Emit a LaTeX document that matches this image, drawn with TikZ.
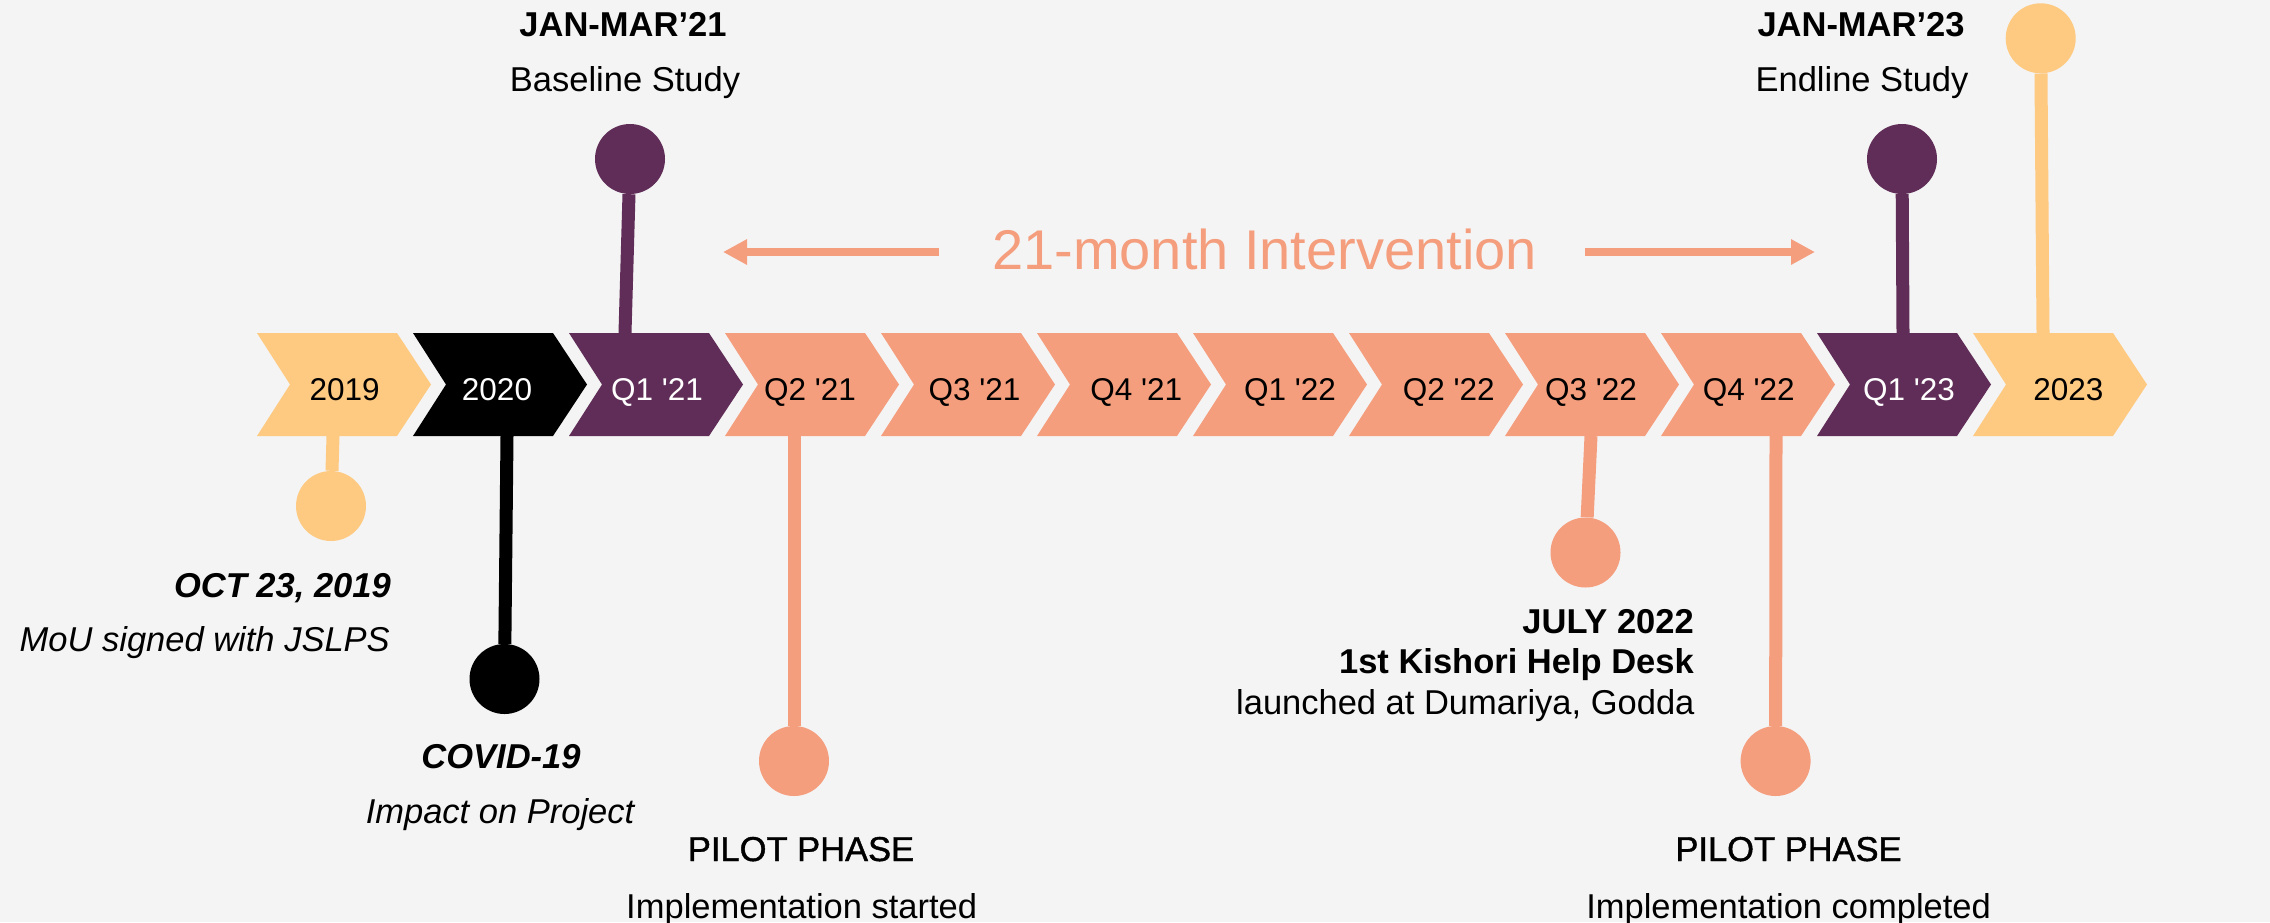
\documentclass[tikz,border=0pt]{standalone}
\usepackage{fontspec}
\setmainfont{Liberation Sans}
\newfontfamily\tlsemibold[FakeBold=1.2]{Liberation Sans}
\usetikzlibrary{arrows.meta}

\definecolor{tlyellow}{HTML}{FECA82}
\definecolor{tlsalmon}{HTML}{F59E7D}
\definecolor{tlpurple}{HTML}{5F2D57}
\definecolor{tlback}{HTML}{F4F4F4}
\newcommand{\tlsize}[1]{\fontsize{#1}{#1}\selectfont}

\begin{document}
\begin{tikzpicture}[x=1pt,y=-1pt,
	pindot/.style={circle,minimum size=70pt,inner sep=0pt},
	pinline/.style={line width=13pt},
	ivarrow/.style={tlsalmon,line width=8.5pt,-{Triangle[length=24pt,width=24pt]}},
	evtext/.style={font=\tlsize{34.5},inner sep=0pt,anchor=base},
	evbold/.style={evtext,font=\tlsize{34.5}\bfseries},
	evsemi/.style={evtext,font=\tlsize{34.5}\tlsemibold},
	evboldit/.style={evtext,font=\tlsize{34.5}\bfseries\itshape},
	evit/.style={evtext,font=\tlsize{34.5}\itshape}]
	\fill[tlback] (0,0) rectangle (2270,922);
	\useasboundingbox (0,0) rectangle (2270,922);

	% quarters
	\foreach \lab/\fc/\tc/\tx [count=\i from 0] in {2019/tlyellow/black/344.6,
		2020/black/white/497, Q1 \textquotesingle21/tlpurple/white/657,
		Q2 \textquotesingle21/tlsalmon/black/810, Q3 \textquotesingle21/tlsalmon/black/974.6,
		Q4 \textquotesingle21/tlsalmon/black/1136.3, Q1 \textquotesingle22/tlsalmon/black/1290,
		Q2 \textquotesingle22/tlsalmon/black/1448.7, Q3 \textquotesingle22/tlsalmon/black/1591,
		Q4 \textquotesingle22/tlsalmon/black/1748.7, Q1 \textquotesingle23/tlpurple/white/1909,
		2023/tlyellow/black/2068.3}
	{
		\fill[\fc] (257+\i*156,333) -- ++(140,0) -- ++(34,51.5) -- ++(-34,51.5)
			-- ++(-140,0) -- ++(33,-51.5) -- cycle;
		\node[font=\tlsize{31.5},text=\tc,inner sep=0pt,anchor=base] (q\i) at (\tx,400) {\lab};
	}

	% pins
	\node[pindot,fill=tlyellow] (d2019) at (331,506) {};
	\coordinate (e2019) at (333,436);
	\draw[pinline,tlyellow] (e2019) -- (d2019);

	\node[pindot,fill=black] (d2020) at (504.5,679) {};
	\coordinate (e2020) at (507,436);
	\draw[pinline,black] (e2020) -- (d2020);

	\node[pindot,fill=tlpurple] (dbase) at (630,159) {};
	\coordinate (ebase) at (625,333);
	\draw[pinline,tlpurple] (ebase) -- (dbase);

	\node[pindot,fill=tlsalmon] (dstart) at (794,761) {};
	\coordinate (estart) at (794,436);
	\draw[pinline,tlsalmon] (estart) -- (dstart);

	\node[pindot,fill=tlsalmon] (ddesk) at (1585.5,552.5) {};
	\coordinate (edesk) at (1591,436);
	\draw[pinline,tlsalmon] (edesk) -- (ddesk);

	\node[pindot,fill=tlsalmon] (dend) at (1775.6,761) {};
	\coordinate (eend) at (1776,436);
	\draw[pinline,tlsalmon] (eend) -- (dend);

	\node[pindot,fill=tlpurple] (dendline) at (1902,159) {};
	\coordinate (eendline) at (1903,333);
	\draw[pinline,tlpurple] (eendline) -- (dendline);

	\node[pindot,fill=tlyellow] (d2023) at (2040.7,38.3) {};
	\coordinate (e2023) at (2043,333);
	\draw[pinline,tlyellow] (e2023) -- (d2023);

	% intervention span
	\node[font=\tlsize{56},text=tlsalmon,inner sep=0pt,anchor=base] (span) at (1264.6,269) {21-month Intervention};
	\coordinate (la) at (939,252);
	\coordinate (lb) at (723,252);
	\coordinate (ra) at (1585,252);
	\coordinate (rb) at (1815,252);
	\draw[ivarrow] (la) -- (lb);
	\draw[ivarrow] (ra) -- (rb);

	% event texts
	\node[evboldit,anchor=base east] (t2019a) at (391,597) {OCT 23, 2019};
	\node[evit,anchor=base east] (t2019b) at (390,651) {MoU signed with JSLPS};
	\node[evboldit] (t2020a) at (501,768) {COVID-19};
	\node[evit] (t2020b) at (500,823) {Impact on Project};
	\node[evbold] (tbasea) at (623,36) {JAN-MAR’21};
	\node[evtext] (tbaseb) at (625,91.7) {Baseline Study};
	\node[evsemi] (tstarta) at (801,861) {PILOT PHASE};
	\node[evtext] (tstartb) at (801.7,918) {Implementation started};
	\node[evbold,anchor=base east] (tdeska) at (1694,633) {JULY 2022};
	\node[evbold,anchor=base east] (tdeskb) at (1694,673) {1st Kishori Help Desk};
	\node[evtext,anchor=base east] (tdeskc) at (1694.7,714) {launched at Dumariya, Godda};
	\node[evsemi] (tenda) at (1788.5,861) {PILOT PHASE};
	\node[evtext] (tendb) at (1788.6,918) {Implementation completed};
	\node[evbold] (tendlinea) at (1861,36) {JAN-MAR’23};
	\node[evtext] (tendlineb) at (1862,91) {Endline Study};
\end{tikzpicture}
\end{document}
